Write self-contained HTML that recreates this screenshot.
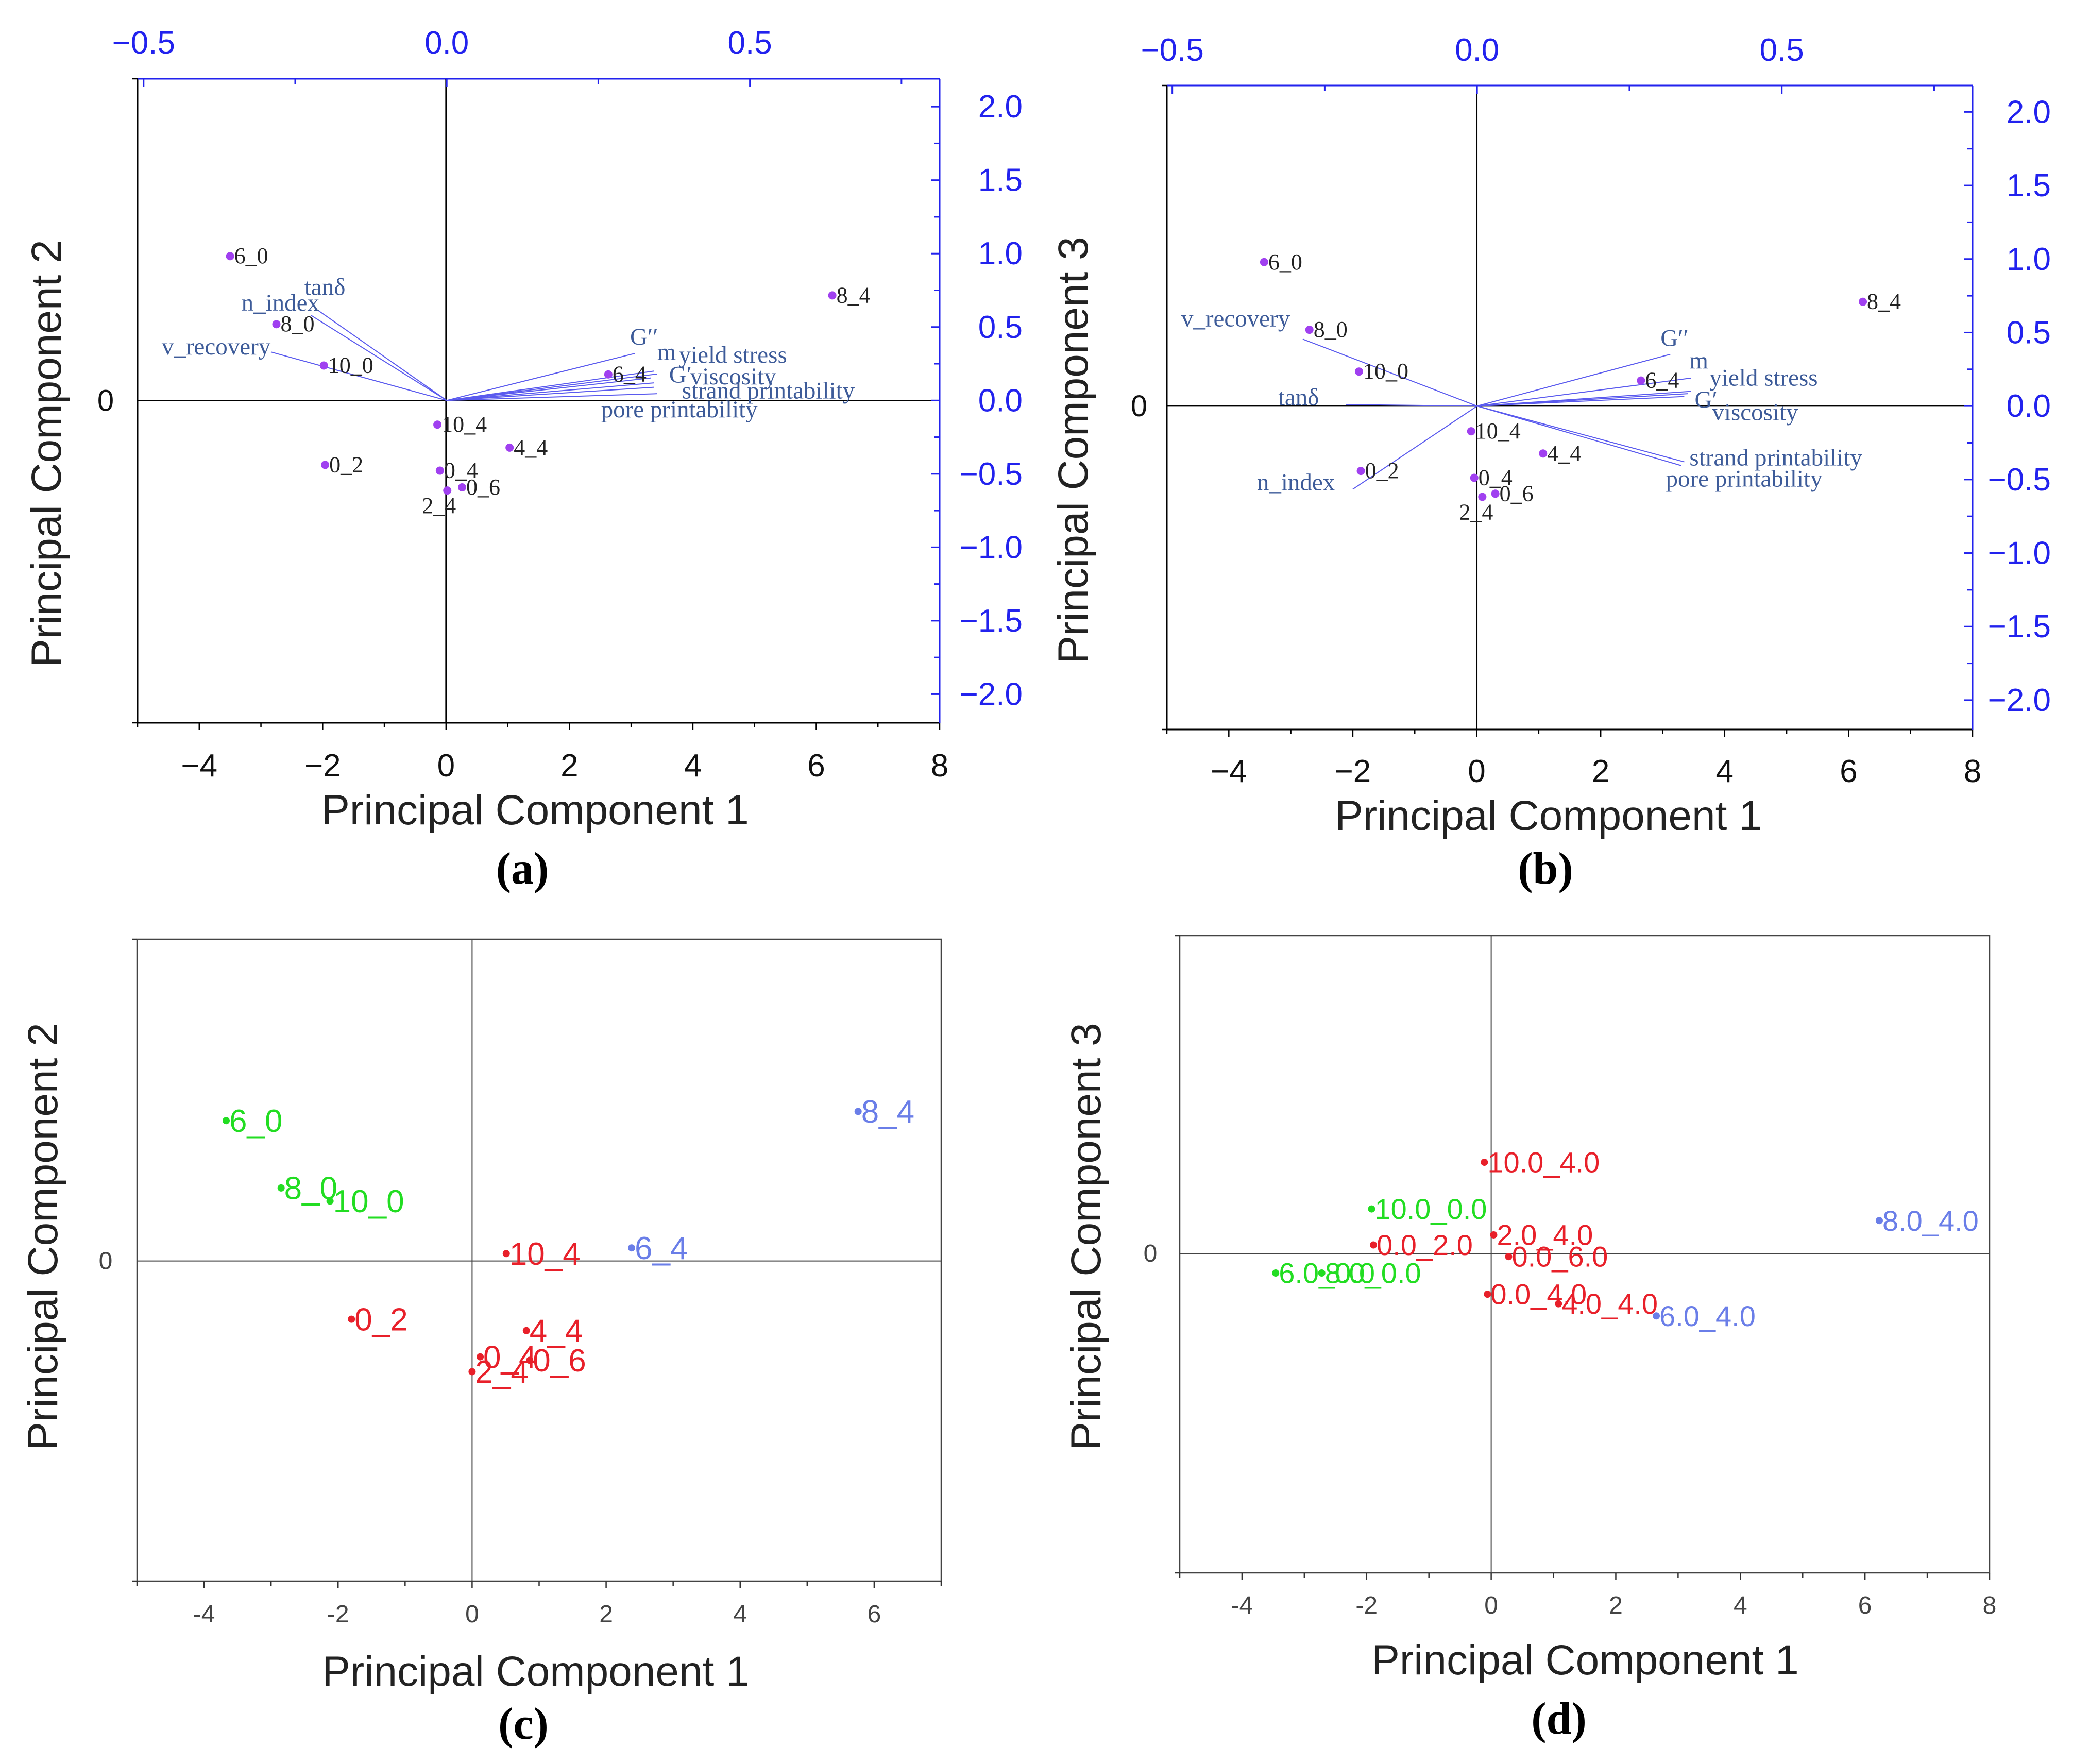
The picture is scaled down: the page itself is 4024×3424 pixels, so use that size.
<!DOCTYPE html>
<html><head><meta charset="utf-8">
<style>
html,body{margin:0;padding:0;background:#fff;}
svg{display:block;}
</style></head>
<body>
<svg id="fig" width="4024" height="3424" viewBox="0 0 4024 3424" xmlns="http://www.w3.org/2000/svg"></svg>
<script>
// ---------- Panel (a) data: PC1 vs PC2 ----------
const aLabels = ["6_0","8_0","10_0","10_4","0_2","0_4","2_4","0_6","4_4","6_4","8_4"];
const aPC1 = [-3.5,-2.75,-1.98,-0.14,-1.96,-0.1,0.02,0.26,1.03,2.63,6.26];
const aPC2 = [2.76,1.46,0.67,-0.46,-1.23,-1.34,-1.72,-1.66,-0.9,0.5,2.01];
const aLoadNames = ["tanδ","n_index","v_recovery","G′′","m","yield stress","G′","viscosity","strand printability","pore printability"];
const aLoadX = [-0.211,-0.224,-0.29,0.31,0.342,0.347,0.337,0.342,0.342,0.347];
const aLoadY = [0.61,0.58,0.33,0.32,0.2,0.18,0.153,0.12,0.09,0.046];
// ---------- Panel (b) data: PC1 vs PC3 ----------
const bLabels = ["6_0","8_0","10_0","10_4","0_2","0_4","2_4","0_6","4_4","6_4","8_4"];
const bPC1 = [-3.43,-2.7,-1.9,-0.09,-1.87,-0.04,0.09,0.3,1.07,2.65,6.23];
const bPC3 = [2.72,1.44,0.65,-0.48,-1.23,-1.36,-1.72,-1.66,-0.9,0.48,1.97];
const bLoadNames = ["v_recovery","tanδ","n_index","G′′","m","yield stress","G′","viscosity","strand printability","pore printability"];
const bLoadX = [-0.286,-0.215,-0.204,0.317,0.351,0.351,0.346,0.34,0.34,0.335];
const bLoadY = [0.455,0.01,-0.566,0.352,0.19,0.1,0.084,0.065,-0.38,-0.405];
// ---------- Panel (c) data ----------
const cLabels = ["6_0","8_0","10_0","10_4","6_4","8_4","0_2","4_4","0_4","0_6","2_4"];
const cPC1 = [-3.67,-2.85,-2.12,0.51,2.38,5.76,-1.8,0.81,0.12,0.86,0.0];
const cPC2 = [2.46,1.28,1.05,0.13,0.23,2.62,-1.02,-1.22,-1.68,-1.74,-1.94];
const cGroup = ["g","g","g","r","b","b","r","r","r","r","r"];
// ---------- Panel (d) data ----------
const dLabels = ["10.0_4.0","10.0_0.0","0.0_2.0","2.0_4.0","0.0_6.0","6.0_0.0","8.0_0.0","0.0_4.0","4.0_4.0","6.0_4.0","8.0_4.0"];
const dPC1 = [-0.11,-1.92,-1.89,0.04,0.28,-3.46,-2.72,-0.06,1.08,2.65,6.23];
const dPC3 = [1.72,0.84,0.16,0.35,-0.06,-0.37,-0.37,-0.77,-0.95,-1.18,0.62];
const dGroup = ["r","g","r","r","r","g","g","r","r","b","b"];
// ticks
const xTicksAB = [-4,-2,0,2,4,6,8];
const xTicksC = [-4,-2,0,2,4,6];
const xTicksD = [-4,-2,0,2,4,6,8];
const topTicks = [-0.5,0.0,0.5];
const rightTicks = [2.0,1.5,1.0,0.5,0.0,-0.5,-1.0,-1.5,-2.0];

const NS="http://www.w3.org/2000/svg";
const svg=document.getElementById('fig');
function el(tag,attrs,parent){const e=document.createElementNS(NS,tag);for(const k in attrs)e.setAttribute(k,attrs[k]);(parent||svg).appendChild(e);return e;}
function txt(str,attrs,parent){const e=el('text',attrs,parent);e.textContent=str;return e;}
const SANS='"Liberation Sans", "DejaVu Sans", sans-serif';
const SERIF='"Liberation Serif", "DejaVu Serif", serif';
const COL={g:"#22dd22",r:"#e8202a",b:"#6a7ee8"};

function scales(p){
  p.sx=v=>p.left+(v-p.xmin)/(p.xmax-p.xmin)*(p.right-p.left);
  p.sy=v=>p.top+(p.ymax-v)/(p.ymax-p.ymin)*(p.bottom-p.top);
  if(p.lxmin!==undefined){
    p.lx=v=>p.left+(v-p.lxmin)/(p.lxmax-p.lxmin)*(p.right-p.left);
    p.ly=v=>p.top+(p.lymax-v)/(p.lymax-p.lymin)*(p.bottom-p.top);
  }
  return p;
}

function frame(p,g,xt,small,blueAxes){
  const k=small?'#333':'#000';
  if(blueAxes){
    el('line',{x1:p.left,y1:p.top,x2:p.left,y2:p.bottom,stroke:'#000','stroke-width':3},g);
    el('line',{x1:p.left,y1:p.bottom,x2:p.right,y2:p.bottom,stroke:'#000','stroke-width':3},g);
    el('line',{x1:p.left,y1:p.top,x2:p.right,y2:p.top,stroke:'#2222ee','stroke-width':3},g);
    el('line',{x1:p.right,y1:p.top,x2:p.right,y2:p.bottom,stroke:'#2222ee','stroke-width':3},g);
  } else {
    el('rect',{x:p.left,y:p.top,width:p.right-p.left,height:p.bottom-p.top,fill:'none',stroke:'#444','stroke-width':2.5},g);
  }
  el('line',{x1:p.sx(0),y1:p.top,x2:p.sx(0),y2:p.bottom,stroke:small?'#444':'#000','stroke-width':small?2:3},g);
  el('line',{x1:p.left,y1:p.sy(0),x2:p.right,y2:p.sy(0),stroke:small?'#444':'#000','stroke-width':small?2:3},g);
  for(let v=Math.ceil(p.xmin);v<=p.xmax;v++){
    const x=p.sx(v);
    el('line',{x1:x,y1:p.bottom,x2:x,y2:p.bottom+(v%2===0?14:9),stroke:k,'stroke-width':2.5},g);
  }
  el('line',{x1:p.left-10,y1:p.bottom,x2:p.left,y2:p.bottom,stroke:k,'stroke-width':2.5},g);
  el('line',{x1:p.left-10,y1:p.top,x2:p.left,y2:p.top,stroke:k,'stroke-width':2.5},g);
  xt.forEach(v=>{
    const t=txt(v<0?(small?'-':'−')+Math.abs(v):String(v),{x:p.sx(v),y:p.tickY,'font-family':SANS,'font-size':small?48:62,fill:small?'#444':'#111','text-anchor':'middle'},g);
    
    
  });
  const z=txt('0',{x:p.zeroX,y:p.sy(0)+(small?16:20),'font-family':SANS,'font-size':small?48:58,fill:small?'#444':'#111','text-anchor':'middle'},g);
  
  
  const xt1=txt('Principal Component 1',{x:p.xTitleX,y:p.xTitleY,'font-family':SANS,'font-size':82,fill:'#222','text-anchor':'middle'},g);
  
  
  const yt=txt(p.yTitle,{x:0,y:0,'font-family':SANS,'font-size':82,fill:'#222','text-anchor':'middle',transform:`translate(${p.yTitleX},${p.yTitleY}) rotate(-90)`},g);
  
  
  const pl=txt(p.tag,{x:p.tagX,y:p.tagY,'font-family':SERIF,'font-size':88,'font-weight':'bold',fill:'#000','text-anchor':'middle'},g);
  
  
}

function blueAxes(p,g){
  for(let v=-0.5;v<=0.76;v+=0.25){
    const x=p.lx(v);
    el('line',{x1:x,y1:p.top,x2:x,y2:p.top+(Math.abs(v*2-Math.round(v*2))<1e-6?16:10),stroke:'#2222ee','stroke-width':3},g);
  }
  for(let v=-2;v<=2.01;v+=0.25){
    const y=p.ly(v);
    el('line',{x1:p.right,y1:y,x2:p.right-(Math.abs(v*2-Math.round(v*2))<1e-6?16:10),y2:y,stroke:'#2222ee','stroke-width':3},g);
  }
  topTicks.forEach(v=>{
    const t=txt(v<0?'−'+Math.abs(v).toFixed(1):v.toFixed(1),{x:p.lx(v),y:p.topTickY,'font-family':SANS,'font-size':62,fill:'#2222ee','text-anchor':'middle'},g);
    
    
  });
  rightTicks.forEach(v=>{
    const t=txt(v<0?'−'+Math.abs(v).toFixed(1):v.toFixed(1),{x:p.rightTickX,y:p.ly(v)+21,'font-family':SANS,'font-size':62,fill:'#2222ee','text-anchor':'end'},g);
    
    
  });
}

function biplot(p,labels,xs,ys,lnames,lx,ly,loff,poff,name){
  const g=el('g',{});
  
  
  frame(p,g,xTicksAB,false,true);
  blueAxes(p,g);
  lnames.forEach((n,i)=>{
    const ln=el('line',{x1:p.lx(0),y1:p.ly(0),x2:p.lx(lx[i]),y2:p.ly(ly[i]),stroke:'#5a5aee','stroke-width':2},g);
    
    
    const t=txt(n,{x:p.lx(lx[i])+loff[i][0],y:p.ly(ly[i])+loff[i][1],'font-family':SERIF,'font-size':47,fill:'#3d5b99'},g);
    
    
  });
  labels.forEach((n,i)=>{
    const c=el('circle',{cx:p.sx(xs[i]),cy:p.sy(ys[i]),r:8,fill:'#a040f0'},g);
    
    
    const o=poff[n]||[8,14];
    const t=txt(n,{x:p.sx(xs[i])+o[0],y:p.sy(ys[i])+o[1],'font-family':SERIF,'font-size':44,fill:'#222'},g);
    
    
  });
}

function scatter(p,labels,xs,ys,grp,xt,fs,name){
  const g=el('g',{});
  
  
  frame(p,g,xt,true,false);
  labels.forEach((n,i)=>{
    const c=el('circle',{cx:p.sx(xs[i]),cy:p.sy(ys[i]),r:7,fill:COL[grp[i]]},g);
    
    
    const t=txt(n,{x:p.sx(xs[i])+6,y:p.sy(ys[i])+fs*0.35,'font-family':SANS,'font-size':fs,fill:COL[grp[i]]},g);
    
    
  });
}

const pa=scales({left:267,right:1824,top:153,bottom:1403,xmin:-5,xmax:8,ymin:-6.16,ymax:6.15,
  lxmin:-0.51,lxmax:0.813,lymin:-2.195,lymax:2.19,
  tickY:1507,topTickY:104,rightTickX:1985,zeroX:205,xTitleX:1039,xTitleY:1600,
  yTitle:'Principal Component 2',yTitleX:118,yTitleY:880,tag:'(a)',tagX:1014,tagY:1715});
biplot(pa,aLabels,aPC1,aPC2,aLoadNames,aLoadX,aLoadY,
  [[-28,-31],[-135,-9],[-212,5],[-9,-17],[6,-22],[42,-22],[35,9],[70,3],[54,22],[-109,46]],
  {"2_4":[-49,44]},'panel-a-biplot');

const pb=scales({left:2265,right:3829,top:166,bottom:1416,xmin:-5,xmax:8,ymin:-6.12,ymax:6.06,
  lxmin:-0.509,lxmax:0.813,lymin:-2.2,lymax:2.18,
  tickY:1518,topTickY:118,rightTickX:3981,zeroX:2211,xTitleX:3006,xTitleY:1611,
  yTitle:'Principal Component 3',yTitleX:2111,yTitleY:874,tag:'(b)',tagX:3000,tagY:1715});
biplot(pb,bLabels,bPC1,bPC3,bLoadNames,bLoadX,bLoadY,
  [[-236,-25],[-132,1],[-186,2],[-19,-16],[-3,-19],[36,-11],[13,27],[54,46],[10,7],[-30,41]],
  {"2_4":[-45,44]},'panel-b-biplot');

const pc=scales({left:266,right:1827,top:1823,bottom:3069,xmin:-5,xmax:7,ymin:-5.61,ymax:5.64,
  tickY:3149,zeroX:205,xTitleX:1040,xTitleY:3272,
  yTitle:'Principal Component 2',yTitleX:111,yTitleY:2400,tag:'(c)',tagX:1016,tagY:3375});
scatter(pc,cLabels,cPC1,cPC2,cGroup,xTicksC,62,'panel-c-scatter');

const pd=scales({left:2290,right:3862,top:1816,bottom:3053,xmin:-5,xmax:8,ymin:-6.03,ymax:6.0,
  tickY:3132,zeroX:2233,xTitleX:3077,xTitleY:3250,
  yTitle:'Principal Component 3',yTitleX:2136,yTitleY:2400,tag:'(d)',tagX:3026,tagY:3365});
scatter(pd,dLabels,dPC1,dPC3,dGroup,xTicksD,56,'panel-d-scatter');
</script>
</body></html>
